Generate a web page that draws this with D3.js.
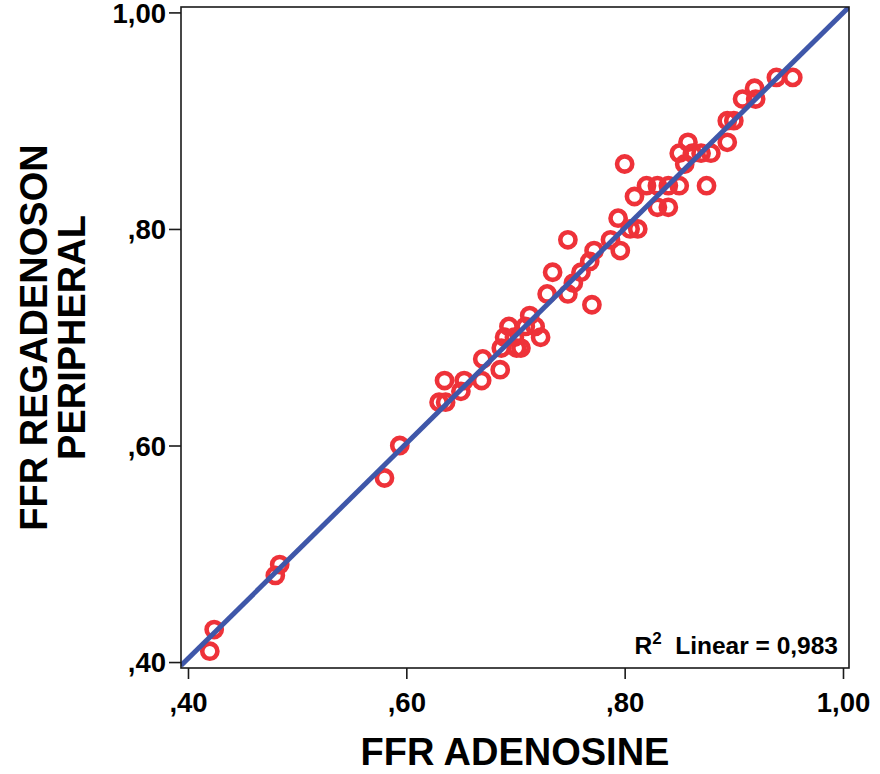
<!DOCTYPE html>
<html>
<head>
<meta charset="utf-8">
<script src="https://cdn.jsdelivr.net/npm/d3@7"></script>
<style>
  body { margin: 0; background: #fff; }
  svg text { font-family: "Liberation Sans", Arial, sans-serif; font-weight: bold; fill: #000; }
</style>
</head>
<body>
<svg id="chart" width="880" height="774"></svg>
<script>
// FFR adenosine (x) vs FFR regadenoson peripheral (y)
const ffrAdenosine = [0.420, 0.424, 0.480, 0.484, 0.580, 0.594,
    0.630, 0.636, 0.635, 0.650, 0.653, 0.669, 0.670, 0.686, 0.687, 0.690, 0.694, 0.699, 0.701, 0.705,
    0.709, 0.713, 0.718, 0.723, 0.729, 0.734, 0.748, 0.748, 0.753, 0.760, 0.768, 0.770, 0.772, 0.787,
    0.794, 0.796, 0.800, 0.805, 0.812, 0.809, 0.820, 0.830, 0.830, 0.840, 0.840, 0.850, 0.850, 0.855,
    0.858, 0.862, 0.870, 0.875, 0.879, 0.894, 0.894, 0.900, 0.908, 0.919, 0.920, 0.939, 0.954]
const ffrRegadenoson = [0.41, 0.43, 0.48, 0.49, 0.57, 0.60,
    0.64, 0.64, 0.66, 0.65, 0.66, 0.66, 0.68, 0.67, 0.69, 0.70, 0.71, 0.70, 0.69, 0.69,
    0.71, 0.72, 0.71, 0.70, 0.74, 0.76, 0.74, 0.79, 0.75, 0.76, 0.77, 0.73, 0.78, 0.79,
    0.81, 0.78, 0.86, 0.80, 0.80, 0.83, 0.84, 0.82, 0.84, 0.82, 0.84, 0.84, 0.87, 0.86,
    0.88, 0.87, 0.87, 0.84, 0.87, 0.88, 0.90, 0.90, 0.92, 0.93, 0.92, 0.94, 0.94]
const tickValues = [0.40, 0.60, 0.80, 1.00]
const fitSlope = 0.994
const fitIntercept = 0.0055
const r2Label = "0,983"

const svg = d3.select("#chart")

const plotLeft = 181, plotRight = 849, plotTop = 7, plotBottom = 668

const x = d3.scaleLinear().domain([0.3936, 1.0055]).range([plotLeft, plotRight])
const y = d3.scaleLinear().domain([0.3945, 1.005]).range([plotBottom, plotTop])

const fmt = d => d >= 1 ? "1,00" : "," + d3.format(".2f")(d).split(".")[1]

// clip for the fit line
svg.append("clipPath").attr("id", "plotClip")
    .append("rect")
    .attr("x", plotLeft).attr("y", plotTop)
    .attr("width", plotRight - plotLeft).attr("height", plotBottom - plotTop)

// points
const points = ffrAdenosine.map((d, i) => ({x: d, y: ffrRegadenoson[i]}))
svg.append("g")
    .selectAll("circle")
    .data(points)
    .join("circle")
        .attr("cx", d => x(d.x))
        .attr("cy", d => y(d.y))
        .attr("r", 7.6)
        .attr("fill", "none")
        .attr("stroke", "#ee3239")
        .attr("stroke-width", 4.6)

// linear fit
const xd = x.domain()
svg.append("line")
    .attr("clip-path", "url(#plotClip)")
    .attr("x1", x(xd[0])).attr("y1", y(fitSlope * xd[0] + fitIntercept))
    .attr("x2", x(xd[1])).attr("y2", y(fitSlope * xd[1] + fitIntercept))
    .attr("stroke", "#3f57a9")
    .attr("stroke-width", 5)

// frame
svg.append("rect")
    .attr("x", plotLeft).attr("y", plotTop)
    .attr("width", plotRight - plotLeft).attr("height", plotBottom - plotTop)
    .attr("fill", "none")
    .attr("stroke", "#1a1a1a")
    .attr("stroke-width", 1.6)

// axes
const xAxis = svg.append("g")
    .attr("transform", `translate(0,${plotBottom})`)
    .call(d3.axisBottom(x).tickValues(tickValues).tickFormat(fmt).tickSize(11).tickPadding(7))
xAxis.select(".domain").remove()
xAxis.selectAll("line").attr("stroke", "#1a1a1a").attr("stroke-width", 1.6)
xAxis.selectAll("text").style("font-size", "27.5px").attr("dy", "0.95em")

const yAxis = svg.append("g")
    .attr("transform", `translate(${plotLeft},0)`)
    .call(d3.axisLeft(y).tickValues(tickValues).tickFormat(fmt).tickSize(12).tickPadding(3))
yAxis.select(".domain").remove()
yAxis.selectAll("line").attr("stroke", "#1a1a1a").attr("stroke-width", 1.6)
yAxis.selectAll("text").style("font-size", "27.5px").attr("dy", "0.36em")

// titles
svg.append("text")
    .attr("x", (plotLeft + plotRight) / 2)
    .attr("y", 765)
    .attr("text-anchor", "middle")
    .style("font-size", "38px")
    .text("FFR ADENOSINE")

const yTitle = svg.append("text")
    .attr("transform", `translate(0,${(plotTop + plotBottom) / 2}) rotate(-90)`)
    .attr("text-anchor", "middle")
    .style("font-size", "38px")
yTitle.append("tspan").attr("x", 0).attr("y", 47).text("FFR REGADENOSON")
yTitle.append("tspan").attr("x", 0).attr("y", 85).text("PERIPHERAL")

// R2 annotation
const r2 = svg.append("text")
    .attr("x", 838)
    .attr("y", 654)
    .attr("text-anchor", "end")
    .style("font-size", "24.5px")
r2.append("tspan").text("R")
r2.append("tspan").attr("dy", -10).style("font-size", "17px").text("2")
r2.append("tspan").attr("dy", 10).text("\u00a0 Linear = " + r2Label)
</script>
</body>
</html>
